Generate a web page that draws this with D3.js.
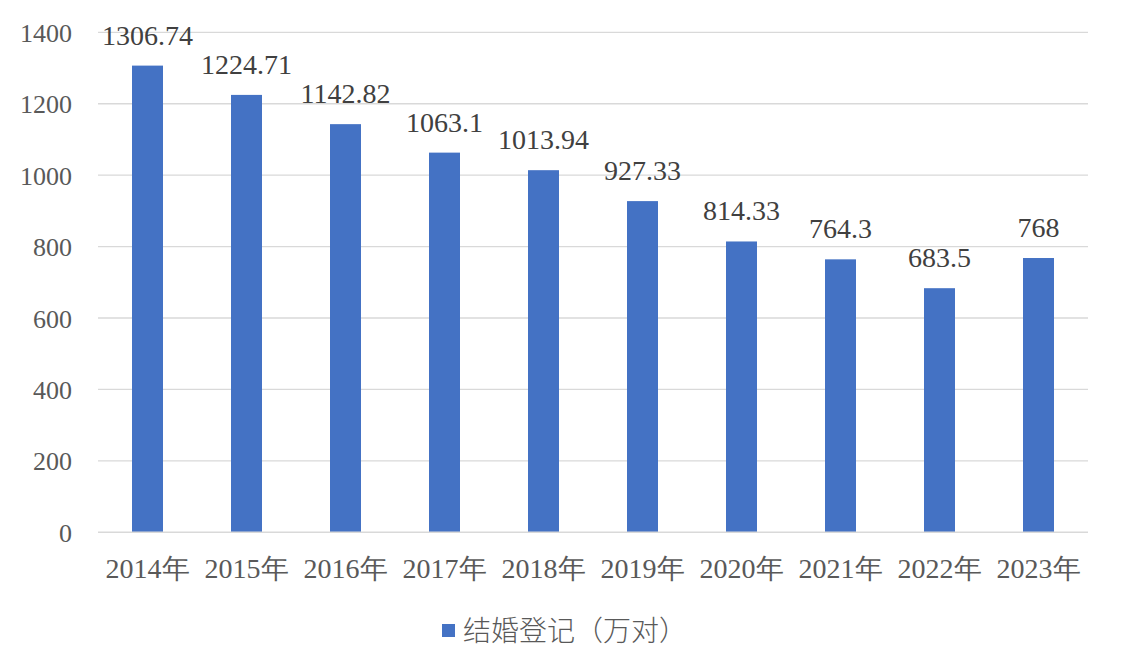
<!DOCTYPE html>
<html><head><meta charset="utf-8">
<script src="https://cdn.jsdelivr.net/npm/d3@7"></script>
<style>html,body{margin:0;padding:0;background:#fff;}</style>
</head><body>
<svg id="chart" width="1121" height="672"></svg>
<script>
const categories = ["2014年","2015年","2016年","2017年","2018年","2019年","2020年","2021年","2022年","2023年"];
const values = [1306.74,1224.71,1142.82,1063.1,1013.94,927.33,814.33,764.3,683.5,768];
const valueLabels = ["1306.74","1224.71","1142.82","1063.1","1013.94","927.33","814.33","764.3","683.5","768"];
const yTicks = [0,200,400,600,800,1000,1200,1400];
const seriesName = "结婚登记（万对）";

(function(){
const svg = d3.select("#chart");
const pLeft = 98, pRight = 1088, pTop = 32.3, pBottom = 532.3;
const serif = "'Liberation Serif','Times New Roman',serif";

const x = d3.scaleBand().domain(categories).range([pLeft, pRight]).paddingInner(0.687).paddingOuter(0.3435);
const y = d3.scaleLinear().domain([0, 1400]).range([pBottom, pTop]);

// gridlines
svg.append("g").selectAll("line").data(yTicks.filter(d => d > 0)).join("line")
  .attr("x1", pLeft).attr("x2", pRight)
  .attr("y1", d => y(d)).attr("y2", d => y(d))
  .attr("stroke", "#d9d9d9").attr("stroke-width", 1.3);

// y axis labels
const yAxis = d3.axisLeft(y).tickValues(yTicks).tickSize(0).tickPadding(0).tickFormat(d3.format("d"));
const yg = svg.append("g").attr("transform", `translate(${pLeft - 26},0)`).call(yAxis);
yg.select(".domain").remove();
yg.attr("font-family", serif);
yg.selectAll("text").style("font-family", serif).attr("font-size", 26).attr("fill", "#595959").attr("dy", "0.35em");

// bars
svg.append("g").selectAll("rect").data(values).join("rect")
  .attr("x", (d, i) => x(categories[i]))
  .attr("width", x.bandwidth())
  .attr("y", d => y(d))
  .attr("height", d => y(0) - y(d))
  .attr("fill", "#4472c4");

// baseline
svg.append("line").attr("x1", pLeft).attr("x2", pRight).attr("y1", pBottom).attr("y2", pBottom)
  .attr("stroke", "#d9d9d9").attr("stroke-width", 1.5);

// x axis labels
const xAxis = d3.axisBottom(x).tickSize(0).tickPadding(0);
const xg = svg.append("g").attr("transform", `translate(0,${pBottom})`).call(xAxis);
xg.select(".domain").remove();
xg.attr("font-family", serif);
xg.selectAll("text").style("font-family", serif).attr("font-size", 28).attr("fill", "#595959")
  .attr("dy", 0).attr("y", 46);

// data labels
svg.append("g").selectAll("text").data(values).join("text")
  .attr("x", (d, i) => x(categories[i]) + x.bandwidth() / 2)
  .attr("y", d => y(d) - 21)
  .attr("text-anchor", "middle")
  .style("font-family", serif).attr("font-size", 28).attr("fill", "#404040")
  .text((d, i) => valueLabels[i]);

// legend
const lg = svg.append("g");
lg.append("rect").attr("x", 442).attr("y", 624).attr("width", 13).attr("height", 13).attr("fill", "#4472c4");
lg.append("text").attr("x", 463).attr("y", 631).attr("dy", "0.36em")
  .style("font-family", "'Noto Sans CJK SC',sans-serif").attr("font-size", 28).attr("font-weight", 300).attr("fill", "#595959")
  .text(seriesName);
})();
</script>
</body></html>
